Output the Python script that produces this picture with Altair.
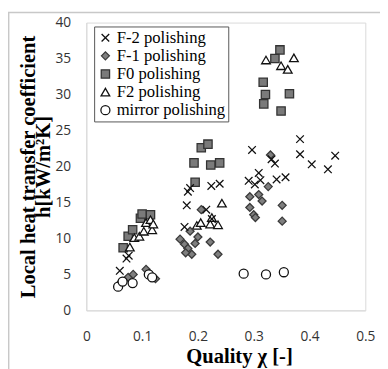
import altair as alt
import pandas as pd

series_names = ["F-2 polishing", "F-1 polishing", "F0 polishing", "F2 polishing", "mirror polishing"]

f_m2_x = [0.060, 0.072, 0.076,
          0.182, 0.180, 0.186, 0.224, 0.239, 0.176, 0.215, 0.225,
          0.297, 0.383, 0.383, 0.404, 0.433, 0.446, 0.338, 0.332, 0.309, 0.291, 0.312, 0.341, 0.357, 0.302]
f_m2_y = [5.5, 7.2, 7.6,
          16.5, 14.6, 17.0, 17.3, 17.6, 11.6, 14.0, 12.7,
          22.3, 23.8, 21.7, 20.3, 19.6, 21.5, 20.4, 21.0, 19.1, 18.0, 18.1, 18.2, 18.5, 17.5]

f_m1_x = [0.063, 0.075, 0.084, 0.107, 0.115, 0.124,
          0.168, 0.176, 0.182, 0.189, 0.186, 0.195, 0.200, 0.206, 0.222, 0.236, 0.178,
          0.330, 0.293, 0.309, 0.315, 0.326, 0.293, 0.300, 0.303, 0.351, 0.351]
f_m1_y = [4.0, 4.6, 5.0, 5.7, 5.0, 4.4,
          9.9, 9.2, 8.6, 7.8, 11.0, 9.3, 10.2, 14.0, 9.5, 7.8, 8.0,
          21.6, 15.8, 16.1, 15.2, 17.2, 14.3, 13.3, 12.9, 14.6, 12.4]

f0_x = [0.066, 0.075, 0.083, 0.097, 0.100, 0.115,
        0.193, 0.195, 0.206, 0.218, 0.223, 0.239,
        0.347, 0.338, 0.317, 0.321, 0.318, 0.364, 0.349]
f0_y = [8.7, 10.3, 11.2, 12.8, 13.4, 13.3,
        20.5, 17.8, 22.6, 23.1, 20.2, 20.5,
        36.2, 35.0, 31.7, 30.0, 28.7, 30.1, 27.7]

f2_x = [0.078, 0.086, 0.095, 0.103, 0.107, 0.115, 0.118, 0.120,
        0.198, 0.205, 0.222, 0.225, 0.236, 0.243,
        0.322, 0.372, 0.349, 0.361]
f2_y = [8.8, 10.1, 10.3, 11.0, 12.2, 12.6, 11.2, 12.0,
        11.8, 12.2, 12.0, 12.9, 11.9, 14.9,
        34.8, 35.1, 34.0, 33.5]

mirror_x = [0.057, 0.065, 0.083, 0.112, 0.118, 0.282, 0.322, 0.354]
mirror_y = [3.3, 4.0, 3.8, 5.0, 4.6, 5.1, 5.0, 5.3]

x_ticks = [0, 0.1, 0.2, 0.3, 0.4, 0.5]
y_ticks = [0, 5, 10, 15, 20, 25, 30, 35, 40]

rows = []
for name, xs, ys in [
    ("F0 polishing", f0_x, f0_y),
    ("F2 polishing", f2_x, f2_y),
    ("F-1 polishing", f_m1_x, f_m1_y),
    ("F-2 polishing", f_m2_x, f_m2_y),
    ("mirror polishing", mirror_x, mirror_y),
]:
    for xv, yv in zip(xs, ys):
        rows.append({"series": name, "x": xv, "y": yv})
df = pd.DataFrame(rows)

cross_path = "M-1,-1L1,1M-1,1L1,-1"

leg = alt.Legend(title=None)
points = alt.Chart(df).mark_point(opacity=1, strokeWidth=1.3, clip=False).encode(
    x=alt.X("x:Q", scale=alt.Scale(domain=[0, 0.5], nice=False),
            axis=alt.Axis(values=x_ticks, format=".1~f", title="Quality \u03c7 [-]",
                          titleX=156, titleY=53, titleAlign="center", titleBaseline="alphabetic")),
    y=alt.Y("y:Q", scale=alt.Scale(domain=[0, 40], nice=False),
            axis=alt.Axis(values=y_ticks, title=["Local heat transfer coefficient",
                                                 "\u00a0\u00a0\u00a0\u00a0\u00a0\u00a0h[kW/m\u00b2K]"],
                          titleX=-59, titleY=147, titleAlign="center", titleBaseline="middle",
                          titleAngle=-90)),
    shape=alt.Shape("series:N", scale=alt.Scale(domain=series_names,
                    range=[cross_path, "diamond", "square", "triangle-up", "circle"]), legend=leg),
    fill=alt.Fill("series:N", scale=alt.Scale(domain=series_names,
                  range=["transparent", "#7f7f7f", "#7a7a7a", "#ffffff", "#ffffff"]), legend=leg),
    stroke=alt.Stroke("series:N", scale=alt.Scale(domain=series_names,
                      range=["#111111", "#3a3a3a", "#333333", "#111111", "#111111"]), legend=leg),
    size=alt.Size("series:N", scale=alt.Scale(domain=series_names,
                  range=[60, 85, 115, 100, 80]), legend=leg),
)

frame = alt.Chart(pd.DataFrame({"a": [0]})).mark_rect(
    fillOpacity=0, stroke="#c8c8c8", strokeWidth=1.5, clip=False
).encode(x=alt.value(-79.3), x2=alt.value(420), y=alt.value(-10.3), y2=alt.value(420))

chart = alt.layer(frame, points).properties(
    width=285, height=294,
    autosize="none",
    padding={"left": 80, "top": 11, "right": 15, "bottom": 56},
).configure_view(
    stroke="#d9d9d9", strokeWidth=1
).configure_axis(
    grid=False, ticks=False, tickSize=0,
    domainColor="#d9d9d9", domainWidth=1,
    labelFont="Open Sans", labelFontSize=14, labelColor="#333333",
    titleFont="Liberation Serif", titleFontSize=21, titleFontWeight="bold", titleColor="#000000",
    titleLineHeight=15, labelFlush=False, labelOverlap=False,
).configure_axisY(
    labelPadding=16
).configure_axisX(
    labelPadding=20
).configure_legend(
    orient="none", legendX=8, legendY=4,
    fillColor="#ffffff", strokeColor="#555555", strokeWidth=1, cornerRadius=0,
    padding=3, rowPadding=0.5, labelFont="Liberation Serif", labelFontSize=17,
    labelColor="#000000", labelOffset=3, symbolStrokeWidth=1.3, labelLimit=300,
)

chart.save("out.html", embed_options={"renderer": "svg", "actions": False})
